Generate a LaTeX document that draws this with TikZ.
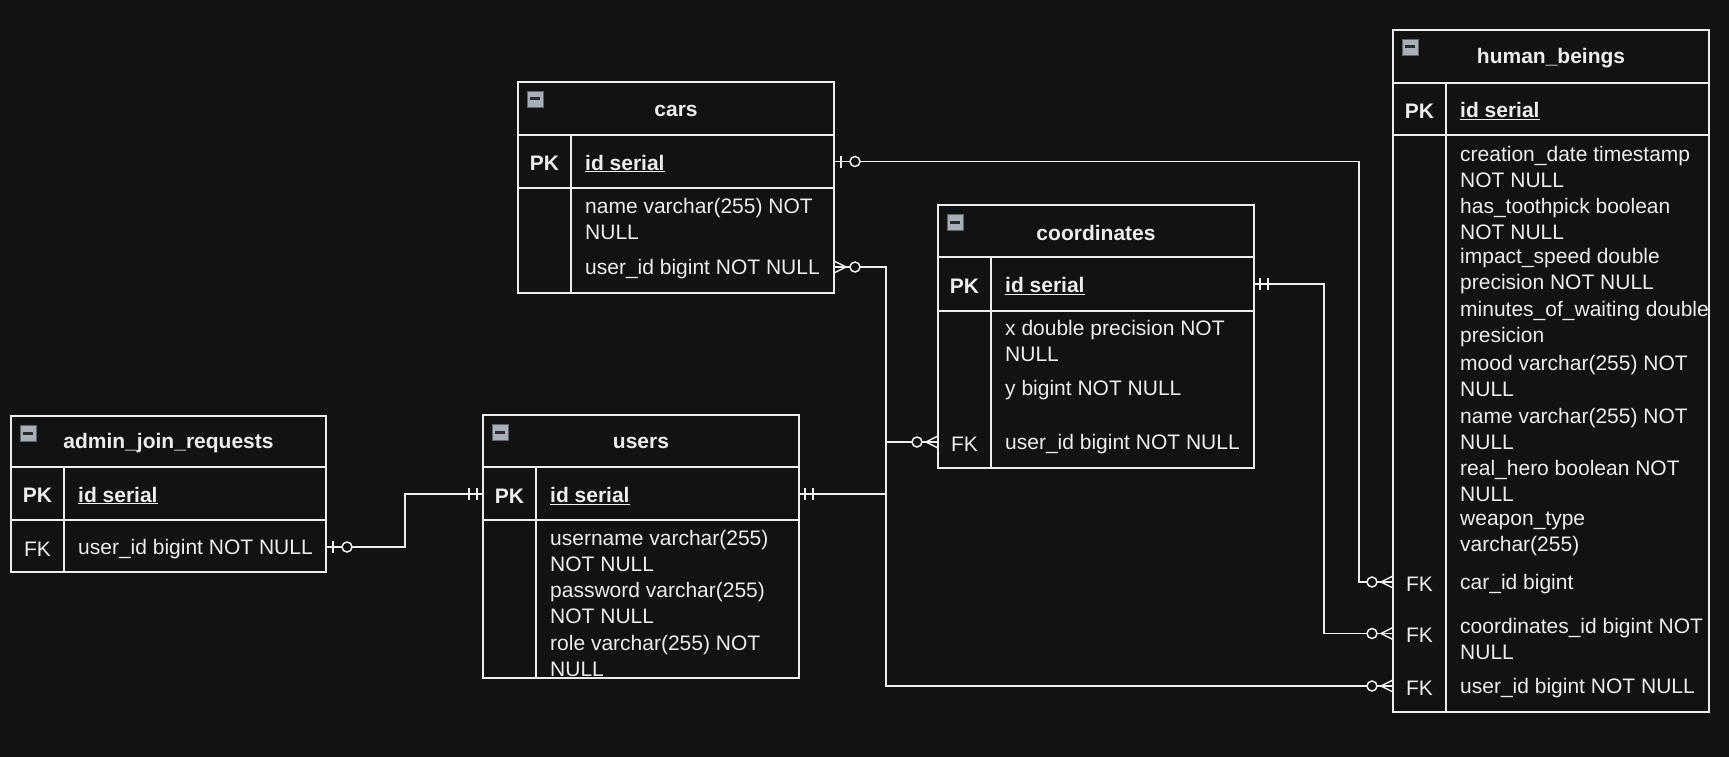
\documentclass[tikz,border=0pt]{standalone}
\usepackage{fontspec}
\setmainfont{Liberation Sans}
\definecolor{bg}{HTML}{121212}
\definecolor{fg}{HTML}{EDEDED}
\definecolor{iconfill}{HTML}{A9AFBA}
\definecolor{iconedge}{HTML}{5E626A}
\definecolor{icondark}{HTML}{2A2A2A}
\newcommand{\erfont}{\fontsize{21pt}{26pt}\selectfont}
\tikzset{
  tbl/.style={draw=fg, line width=1.5pt, fill=bg, rectangle, inner sep=0pt, outer sep=0pt, anchor=north west},
  sepline/.style={draw=fg, line width=1.5pt},
  ttl/.style={text=fg, font=\bfseries\erfont, inner sep=0pt, anchor=center, yshift=-2pt},
  keylbl/.style={text=fg, font=\erfont, inner sep=0pt, anchor=center, yshift=-2pt},
  pkkey/.style={keylbl, font=\bfseries\erfont},
  fld/.style={text=fg, font=\erfont, inner sep=0pt, anchor=west, align=left, yshift=-2pt},
  pkfld/.style={fld, font=\bfseries\erfont},
  icon/.style={draw=iconedge, fill=iconfill, line width=0.8pt, minimum size=16pt, inner sep=0pt, outer sep=0pt, anchor=north west, rectangle},
  rel/.style={draw=fg, line width=1.5pt},
}
% name, L, T, R, B, header bottom, pk bottom, divider x, title
\newcommand{\erframe}[9]{%
  \node[tbl, minimum width={(#4-#2)*1pt}, minimum height={(#5-#3)*1pt}] (#1) at (#2,#3) {};
  \draw[sepline] (#2,#6) -- (#4,#6);
  \draw[sepline] (#2,#7) -- (#4,#7);
  \draw[sepline] (#8,#6) -- (#8,#5);
  \node[ttl] (#1-title) at ({(#2+#4)/2},{(#3+#6)/2}) {#9};
  \node[icon] (#1-icon) at ({#2+9},{#3+9}) {\textcolor{icondark}{\rule{10pt}{3pt}}};
}
\newcommand{\mkOneOne}[2]{\begin{scope}[shift={(#1)},xscale=#2]\draw[rel] (6,-6)--(6,6) (14,-6)--(14,6);\end{scope}}
\newcommand{\mkZeroOne}[2]{\begin{scope}[shift={(#1)},xscale=#2]\draw[rel] (7,-6)--(7,6);\draw[rel,fill=bg] (21,0) circle[radius=5pt];\end{scope}}
\newcommand{\mkZeroMany}[2]{\begin{scope}[shift={(#1)},xscale=#2]\draw[rel] (0,-6)--(12,0)--(0,6);\draw[rel,fill=bg] (21,0) circle[radius=5pt];\end{scope}}
\begin{document}
\begin{tikzpicture}[x=1pt,y=-1pt]
\fill[bg] (0,0) rectangle (1729,757);
\useasboundingbox (0,0) rectangle (1729,757);

% cars
\erframe{cars}{518}{82}{834}{293}{135}{188}{571}{cars}
\node[pkkey] (cars-pk) at (544.5,161.5) {PK};
\node[pkfld] (cars-id) at (585,161.5) {\underline{id serial}};
\node[fld] (cars-name) at (585,217) {name varchar(255) NOT\\NULL};
\node[fld] (cars-uid) at (585,267) {user\_id bigint NOT NULL};

% coordinates
\erframe{coords}{938}{205}{1254}{468}{257}{311}{991}{coordinates}
\node[pkkey] (coords-pk) at (964.5,284) {PK};
\node[pkfld] (coords-id) at (1005,284) {\underline{id serial}};
\node[fld] (coords-x) at (1005,339) {x double precision NOT\\NULL};
\node[fld] (coords-y) at (1005,388) {y bigint NOT NULL};
\node[keylbl] (coords-fk) at (964.5,442) {FK};
\node[fld] (coords-uid) at (1005,442) {user\_id bigint NOT NULL};

% human_beings
\erframe{hb}{1393}{30}{1709}{712}{83}{135}{1446}{human\_beings}
\node[pkkey] (hb-pk) at (1419.5,109) {PK};
\node[pkfld] (hb-id) at (1460,109) {\underline{id serial}};
\node[fld] (hb-f1) at (1460,164.5) {creation\_date timestamp\\NOT NULL};
\node[fld] (hb-f2) at (1460,216.5) {has\_toothpick boolean\\NOT NULL};
\node[fld] (hb-f3) at (1460,269) {impact\_speed double\\precision NOT NULL};
\node[fld] (hb-f4) at (1460,322.5) {minutes\_of\_waiting double\\presicion};
\node[fld] (hb-f5) at (1460,373.5) {mood varchar(255) NOT\\NULL};
\node[fld] (hb-f6) at (1460,426.5) {name varchar(255) NOT\\NULL};
\node[fld] (hb-f7) at (1460,479) {real\_hero boolean NOT\\NULL};
\node[fld] (hb-f8) at (1460,532) {weapon\_type\\varchar(255)};
\node[keylbl] (hb-fk1) at (1419.5,582) {FK};
\node[fld] (hb-car) at (1460,582) {car\_id bigint};
\node[keylbl] (hb-fk2) at (1419.5,633.5) {FK};
\node[fld] (hb-coord) at (1460,636.5) {coordinates\_id bigint NOT\\NULL};
\node[keylbl] (hb-fk3) at (1419.5,686) {FK};
\node[fld] (hb-uid) at (1460,686) {user\_id bigint NOT NULL};

% admin_join_requests
\erframe{adm}{11}{416}{326}{572}{467}{520}{64}{admin\_join\_requests}
\node[pkkey] (adm-pk) at (37.5,493.5) {PK};
\node[pkfld] (adm-id) at (78,493.5) {\underline{id serial}};
\node[keylbl] (adm-fk) at (37.5,547) {FK};
\node[fld] (adm-uid) at (78,547) {user\_id bigint NOT NULL};

% users
\erframe{users}{483}{415}{799}{678}{467}{520}{536}{users}
\node[pkkey] (users-pk) at (509.5,494) {PK};
\node[pkfld] (users-id) at (550,494) {\underline{id serial}};
\node[fld] (users-f1) at (550,549) {username varchar(255)\\NOT NULL};
\node[fld] (users-f2) at (550,601) {password varchar(255)\\NOT NULL};
\node[fld] (users-f3) at (550,654) {role varchar(255) NOT\\NULL};

% connector end points (rows, not the shifted text)
\coordinate (p-users-r) at (799,494);
\coordinate (p-users-l) at (483,494);
\coordinate (p-cars-pk) at (834,161.5);
\coordinate (p-cars-uid) at (834,267);
\coordinate (p-coords-pk) at (1254,284);
\coordinate (p-coords-fk) at (938,442);
\coordinate (p-hb-car) at (1393,582);
\coordinate (p-hb-coord) at (1393,633.5);
\coordinate (p-hb-uid) at (1393,686);
\coordinate (p-adm-fk) at (326,547);
\coordinate (busU) at (886,0);
\coordinate (busC) at (1359,0);
\coordinate (busK) at (1324,0);
\coordinate (busA) at (405,0);

% connectors
\draw[rel] (p-users-r) -- (busU |- p-users-r) -- (busU |- p-cars-uid) -- (p-cars-uid);
\draw[rel] (p-users-r) -- (busU |- p-users-r) -- (busU |- p-coords-fk) -- (p-coords-fk);
\draw[rel] (p-users-r) -- (busU |- p-users-r) -- (busU |- p-hb-uid) -- (p-hb-uid);
\draw[rel] (p-cars-pk) -- (busC |- p-cars-pk) -- (busC |- p-hb-car) -- (p-hb-car);
\draw[rel] (p-coords-pk) -- (busK |- p-coords-pk) -- (busK |- p-hb-coord) -- (p-hb-coord);
\draw[rel] (p-adm-fk) -- (busA |- p-adm-fk) -- (busA |- p-users-l) -- (p-users-l);

% markers
\mkOneOne{p-users-r}{1}
\mkZeroMany{p-cars-uid}{1}
\mkZeroMany{p-coords-fk}{-1}
\mkZeroMany{p-hb-uid}{-1}
\mkZeroOne{p-cars-pk}{1}
\mkZeroMany{p-hb-car}{-1}
\mkOneOne{p-coords-pk}{1}
\mkZeroMany{p-hb-coord}{-1}
\mkZeroOne{p-adm-fk}{1}
\mkOneOne{p-users-l}{-1}
\end{tikzpicture}
\end{document}
